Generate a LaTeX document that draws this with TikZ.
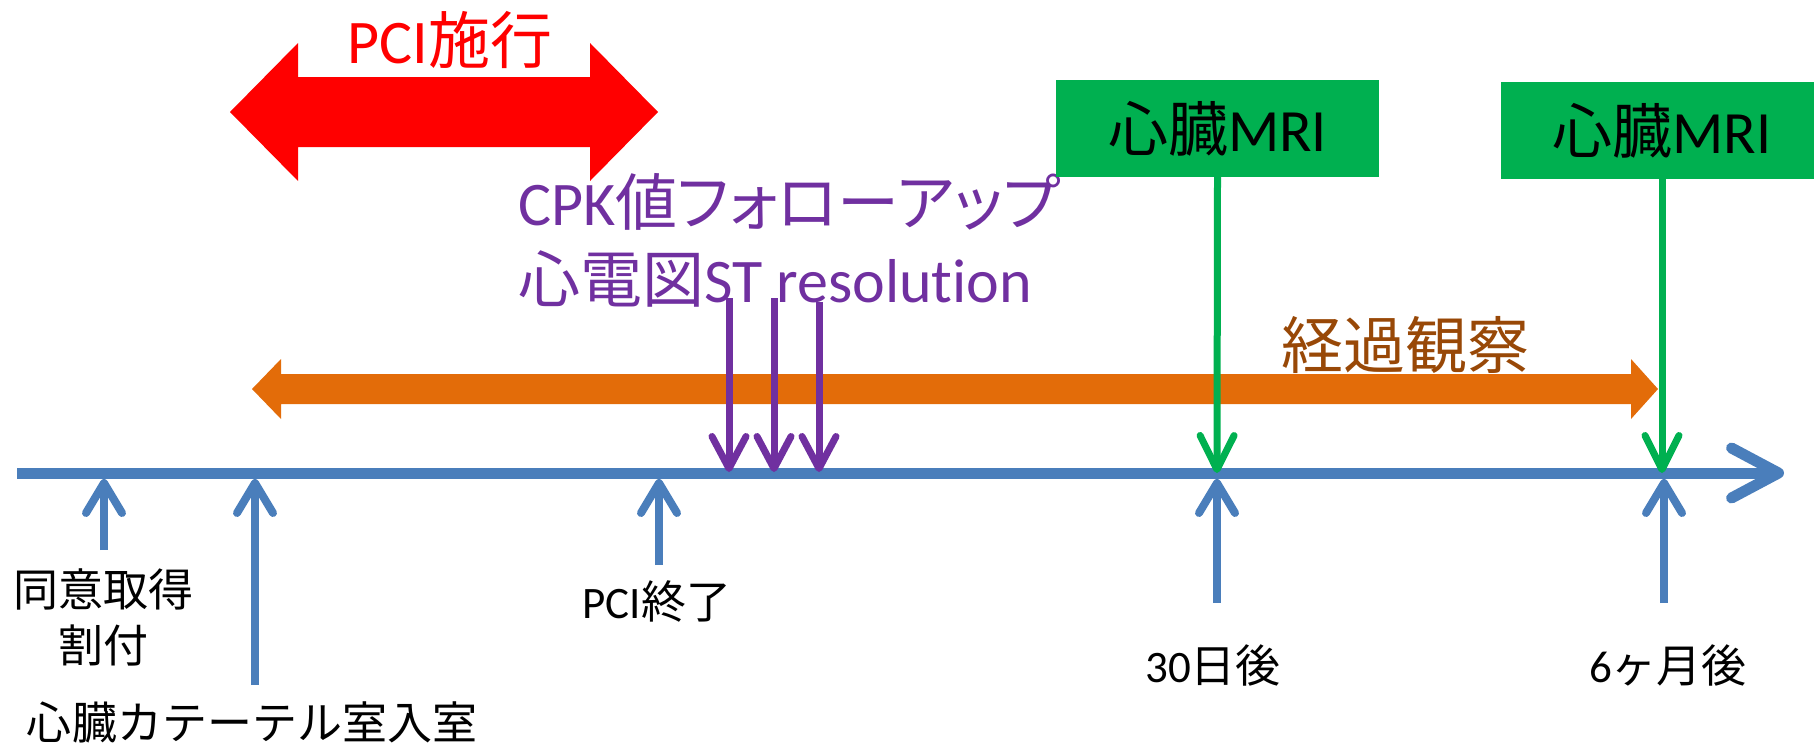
\documentclass[tikz,border=0pt]{standalone}
\usepackage{fontspec}
\setmainfont[Ligatures=NoCommon]{Carlito}
\newfontfamily\cjk{Noto Sans CJK JP}
\newfontfamily\cjkp[RawFeature={+palt}]{Noto Sans CJK JP}
\usetikzlibrary{arrows.meta}
\definecolor{axisblue}{HTML}{4A7EBB}
\definecolor{pgreen}{HTML}{00B050}
\definecolor{ppurple}{HTML}{7030A0}
\definecolor{porange}{HTML}{E36C09}
\definecolor{pbrown}{HTML}{984807}
\newcommand{\jp}[1]{{\cjk #1}}
\newcommand{\jpp}[1]{{\cjkp #1}}
\newcommand{\fsz}[2]{\fontsize{#1}{#2}\selectfont}
\begin{document}
\begin{tikzpicture}[x=1pt,y=-1pt,
  lbl/.style={inner sep=0pt, font=\fsz{45}{56}, text=black},
  bigtxt/.style={inner sep=0pt, font=\fsz{62}{77}},
  mribox/.style={fill=pgreen, draw=none, minimum width=323pt, minimum height=97pt, inner sep=0pt, font=\fsz{60}{70}, text=black},
  uparrow/.style={axisblue, line width=8pt, -{Straight Barb[length=30pt,width=36pt,round]}},
  greenarrow/.style={pgreen, line width=7pt, -{Straight Barb[length=34pt,width=34pt,round]}},
  purparrow/.style={ppurple, line width=7pt, -{Straight Barb[length=32pt,width=34pt,round]}},
  axisline/.style={axisblue, line width=11pt, -{Straight Barb[length=47pt,width=50pt,round]}}
]
\useasboundingbox (0,0) rectangle (1814,744);

% axis
\coordinate (ax0) at (17,473);
\coordinate (ax1) at (1784,473);
\draw[axisline] (ax0) -- (ax1);

% red double arrow (PCI)
\fill[red] (230,112) -- (298,43) -- (298,77) -- (590,77) -- (590,43) -- (658,112)
  -- (590,181) -- (590,147) -- (298,147) -- (298,181) -- cycle;
\node[bigtxt, text=red] (pcitxt) at (450,40) {PCI\jp{施行}};

% orange double arrow (observation)
\fill[porange] (252,389) -- (281,359) -- (281,374) -- (1631,374) -- (1631,359) -- (1658,389)
  -- (1631,419) -- (1631,404) -- (281,404) -- (281,419) -- cycle;
\node[bigtxt, text=pbrown] (obs) at (1405,345) {\jp{経過観察}};

% purple text and arrows
\node[bigtxt, text=ppurple, anchor=base west] (cpk1) at (518,225) {CPK\jpp{値フォローアップ}};
\node[bigtxt, text=ppurple, anchor=base west] (cpk2) at (518,302) {\jp{心電図}ST resolution};
\coordinate (p1s) at (729,298); \coordinate (p1e) at (729,472);
\coordinate (p2s) at (774,298); \coordinate (p2e) at (774,472);
\coordinate (p3s) at (819,302); \coordinate (p3e) at (819,472);
\draw[purparrow] (p1s) -- (p1e);
\draw[purparrow] (p2s) -- (p2e);
\draw[purparrow] (p3s) -- (p3e);

% MRI boxes
\node[mribox] (mri1) at (1217.5,128.5) {\jp{心臓}MRI};
\node[mribox] (mri2) at (1662,130.5) {\jp{心臓}MRI};
\coordinate (g1) at (1217,473);
\coordinate (g2) at (1662,473);
\draw[greenarrow] (mri1.south) -- (g1);
\draw[greenarrow] (mri2.south) -- (g2);

% bottom labels and up arrows
\node[lbl, align=center] (consent) at (103,617) {\jp{同意取得}\\\jp{割付}};
\node[lbl] (cath) at (252,722) {\jp{心臓カテーテル室入室}};
\node[lbl] (pciend) at (657,602) {PCI\jp{終了}};
\node[lbl] (d30) at (1213,665) {30\jp{日後}};
\node[lbl] (m6) at (1668,665) {6\jp{ヶ月後}};

\coordinate (u1s) at (104,550); \coordinate (u1e) at (104,479);
\coordinate (u2s) at (255,685); \coordinate (u2e) at (255,479);
\coordinate (u3s) at (659,565); \coordinate (u3e) at (659,479);
\coordinate (u4s) at (1217,603); \coordinate (u4e) at (1217,479);
\coordinate (u5s) at (1664,603); \coordinate (u5e) at (1664,479);
\draw[uparrow] (u1s) -- (u1e);
\draw[uparrow] (u2s) -- (u2e);
\draw[uparrow] (u3s) -- (u3e);
\draw[uparrow] (u4s) -- (u4e);
\draw[uparrow] (u5s) -- (u5e);
\end{tikzpicture}
\end{document}
